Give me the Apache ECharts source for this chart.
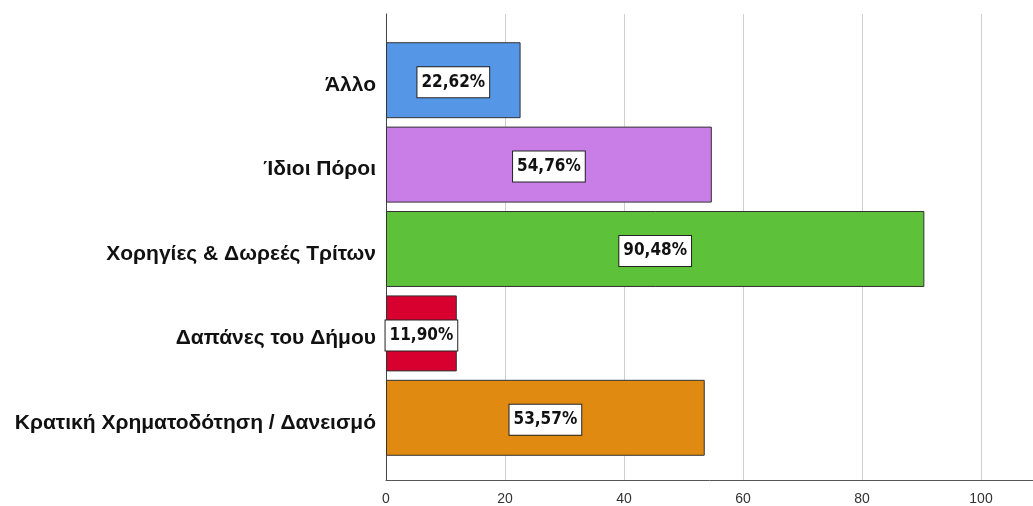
<!DOCTYPE html>
<html>
<head>
<meta charset="utf-8">
<script src="https://cdn.jsdelivr.net/npm/echarts@6/dist/echarts.min.js"></script>
<style>
html, body { margin: 0; padding: 0; background: #fff; }
#chart { width: 1033px; height: 506px; }
</style>
</head>
<body>
<div id="chart"></div>
<script>
// categories, top to bottom
var categories = ["Άλλο", "Ίδιοι Πόροι", "Χορηγίες & Δωρεές Τρίτων", "Δαπάνες του Δήμου", "Κρατική Χρηματοδότηση / Δανεισμό"];
var values = [22.62, 54.76, 90.48, 11.90, 53.57];
var barColors = ["#5596E6", "#C87EE6", "#5DC13A", "#D8002E", "#E08A12"];
var xTicks = [0, 20, 40, 60, 80, 100];

// pick a narrow bold font for the value boxes if one is installed
function hasFont(name) {
    var c = document.createElement("canvas").getContext("2d");
    var s = "22,62% 90,48%";
    c.font = "bold 40px monospace";
    var a = c.measureText(s).width;
    c.font = "bold 40px '" + name + "', monospace";
    return c.measureText(s).width !== a;
}
var boxFont = "Liberation Sans", boxSize = 16;
if (hasFont("Liberation Sans Narrow")) { boxFont = "Liberation Sans Narrow"; boxSize = 21; }
else if (hasFont("DejaVu Sans Condensed")) { boxFont = "DejaVu Sans Condensed"; boxSize = 17; }

var chart = echarts.init(document.getElementById("chart"));

var barData = [];
for (var i = 0; i < values.length; i++) {
    barData.push({ value: values[i], itemStyle: { color: barColors[i] } });
}

chart.setOption({
    animation: false,
    grid: [
        // frame: axis lines + grid lines
        { left: 386, right: 0, top: 14, bottom: 23 },
        // bars
        { left: 386, right: 0, top: 38, bottom: 46 }
    ],
    xAxis: [
        {
            gridIndex: 0, type: "value", min: 0, max: 108.74, interval: 20,
            axisLine: { show: true, lineStyle: { color: "#555", width: 1 } },
            axisTick: { show: false },
            splitLine: { show: true, showMaxLine: false, lineStyle: { color: "#cfcfcf", width: 1 } },
            axisLabel: {
                margin: 12, fontSize: 14, color: "#333", fontFamily: "Liberation Sans",
                showMaxLabel: false,
                formatter: function (v) { return xTicks.indexOf(v) >= 0 ? String(v) : ""; }
            }
        },
        { gridIndex: 1, type: "value", min: 0, max: 108.74, show: false }
    ],
    yAxis: [
        {
            gridIndex: 0, type: "value", min: 0, max: 1,
            axisLine: { show: true, lineStyle: { color: "#444", width: 1 } },
            axisTick: { show: false }, axisLabel: { show: false }, splitLine: { show: false }
        },
        {
            gridIndex: 1, type: "category", data: categories, inverse: true,
            axisLine: { show: false }, axisTick: { show: false },
            axisLabel: {
                margin: 10,
                formatter: function (v) { return "{c|" + v + "}"; },
                rich: {
                    c: {
                        fontSize: 21, fontWeight: "bold", color: "#111",
                        fontFamily: "Liberation Sans", padding: [10, 0, 0, 0]
                    }
                }
            }
        }
    ],
    series: [{
        type: "bar",
        xAxisIndex: 1, yAxisIndex: 1,
        data: barData,
        barCategoryGap: "10%",
        itemStyle: { borderColor: "#333", borderWidth: 1 },
        label: {
            show: true, position: "inside", offset: [0, 2],
            fontSize: boxSize, fontWeight: "bold", color: "#111", fontFamily: boxFont,
            backgroundColor: "#fff", borderColor: "#222", borderWidth: 1,
            padding: [7, 4, 6, 4],
            formatter: function (p) { return p.value.toFixed(2).replace(".", ",") + "%"; }
        }
    }]
});
</script>
</body>
</html>
